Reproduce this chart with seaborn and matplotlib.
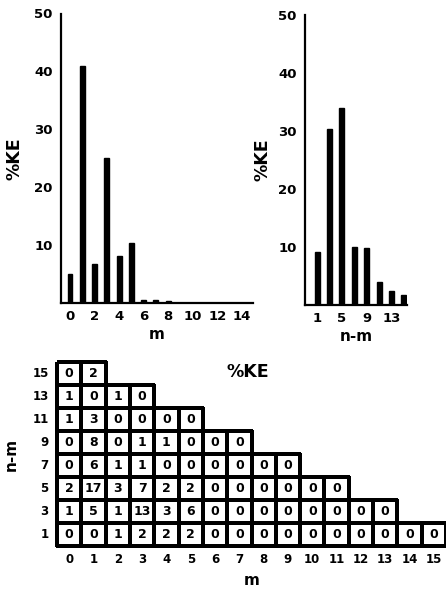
import numpy as np
import pandas as pd
import matplotlib
matplotlib.use("Agg")
import matplotlib.pyplot as plt
from matplotlib.colors import ListedColormap
import seaborn as sns

# Kinetic-energy partition by zonal wavenumber m and by n-m
m_bar = [0, 1, 2, 3, 4, 5, 6, 7, 8]
ke_by_m = [5.0, 40.9, 6.8, 25.0, 8.1, 10.4, 0.5, 0.5, 0.4]

nm_bar = [1, 3, 5, 7, 9, 11, 13, 15]
ke_by_nm = [9.1, 30.3, 34.0, 10.0, 9.8, 4.0, 2.4, 1.8]

# Table of %KE, one list per n-m (m = 0, 1, 2, ...)
nm_rows = [15, 13, 11, 9, 7, 5, 3, 1]
m_cols = list(range(16))
ke_table = {
    15: [0, 2],
    13: [1, 0, 1, 0],
    11: [1, 3, 0, 0, 0, 0],
    9: [0, 8, 0, 1, 1, 0, 0, 0],
    7: [0, 6, 1, 1, 0, 0, 0, 0, 0, 0],
    5: [2, 17, 3, 7, 2, 2, 0, 0, 0, 0, 0, 0],
    3: [1, 5, 1, 13, 3, 6, 0, 0, 0, 0, 0, 0, 0, 0],
    1: [0, 0, 1, 2, 2, 2, 0, 0, 0, 0, 0, 0, 0, 0, 0, 0],
}

sns.set_style("white")
plt.rcParams["font.family"] = ["DejaVu Sans"]
plt.rcParams["font.weight"] = "bold"
plt.rcParams["axes.labelweight"] = "bold"
plt.rcParams["axes.linewidth"] = 1.6
for key in ("text.color", "axes.labelcolor", "axes.edgecolor",
            "xtick.color", "ytick.color"):
    plt.rcParams[key] = "black"

W, H = 446, 596
fig = plt.figure(figsize=(W / 100, H / 100), dpi=100)
fig.patch.set_facecolor("white")


def px_axes(x0, y0, x1, y1):
    return fig.add_axes([x0 / W, 1 - y1 / H, (x1 - x0) / W, (y1 - y0) / H])


def style_bar_axes(ax):
    ax.set_facecolor("none")
    sns.despine(ax=ax)
    ax.set_ylim(0, 50)
    ax.set_yticks([10, 20, 30, 40, 50])
    ax.tick_params(axis="y", direction="in", length=6, width=1.5, pad=6,
                   labelsize=9.5, colors="black")
    ax.tick_params(axis="x", length=0, pad=5, labelsize=9.5, colors="black")
    for t in ax.get_xticklabels() + ax.get_yticklabels():
        t.set_fontweight("bold")


# Left: %KE versus m
ax1 = px_axes(61, 13.5, 253, 303)
sns.barplot(x=m_bar, y=ke_by_m, native_scale=True, width=0.4,
            color="black", edgecolor="black", errorbar=None, ax=ax1)
ax1.set_xlim(-0.73, 14.9)
ax1.set_xticks(range(0, 15, 2))
ax1.set_xticklabels([str(v) for v in range(0, 15, 2)])
style_bar_axes(ax1)
ax1.set_xlabel("m", fontsize=11, fontweight="bold", labelpad=3)
ax1.set_ylabel("%KE", fontsize=12.5, fontweight="bold", labelpad=8)

# Right: %KE versus n-m
ax2 = px_axes(305, 15, 407, 305)
sns.barplot(x=nm_bar, y=ke_by_nm, native_scale=True, width=0.4,
            color="black", edgecolor="black", errorbar=None, ax=ax2)
ax2.set_xlim(-0.95, 15.5)
ax2.set_xticks([1, 5, 9, 13])
ax2.set_xticklabels(["1", "5", "9", "13"])
style_bar_axes(ax2)
ax2.set_xlabel("n-m", fontsize=11, fontweight="bold", labelpad=3)
ax2.set_ylabel("%KE", fontsize=12.5, fontweight="bold", labelpad=5)

# Bottom: triangular table of %KE over (m, n-m)
grid = pd.DataFrame(np.nan, index=nm_rows, columns=m_cols)
for nm, vals in ke_table.items():
    grid.loc[nm, : len(vals) - 1] = vals
empty = grid.isna()

ax3 = px_axes(57, 362, 446, 546)
sns.heatmap(grid, mask=empty, cmap=ListedColormap(["white"]),
            cbar=False, annot=True, fmt=".0f",
            annot_kws={"fontsize": 9, "fontweight": "bold", "color": "black"},
            linewidths=1.6, linecolor="black", square=False, ax=ax3)
mesh = ax3.collections[0]
mesh.set_clip_on(False)
# outline only the cells that hold a value
edge = np.array([(0, 0, 0, 0) if e else (0, 0, 0, 1)
                 for e in empty.values.ravel()], dtype=float)
mesh.set_edgecolors(edge)
ax3.tick_params(axis="both", length=0, labelsize=8.5, colors="black")
ax3.tick_params(axis="x", pad=5)
ax3.tick_params(axis="y", pad=6)
ax3.set_yticklabels([str(v) for v in nm_rows], rotation=0, fontweight="bold")
ax3.set_xticklabels([str(v) for v in m_cols], rotation=0, fontweight="bold")
ax3.set_xlabel("m", fontsize=11, fontweight="bold", labelpad=5)
ax3.set_ylabel("n-m", fontsize=11, fontweight="bold", labelpad=10)

fig.text(248 / W, 1 - 372 / H, "%KE", fontsize=12.5, fontweight="bold",
         ha="center", va="center")

fig.savefig("out.png", dpi=100, facecolor="white")
